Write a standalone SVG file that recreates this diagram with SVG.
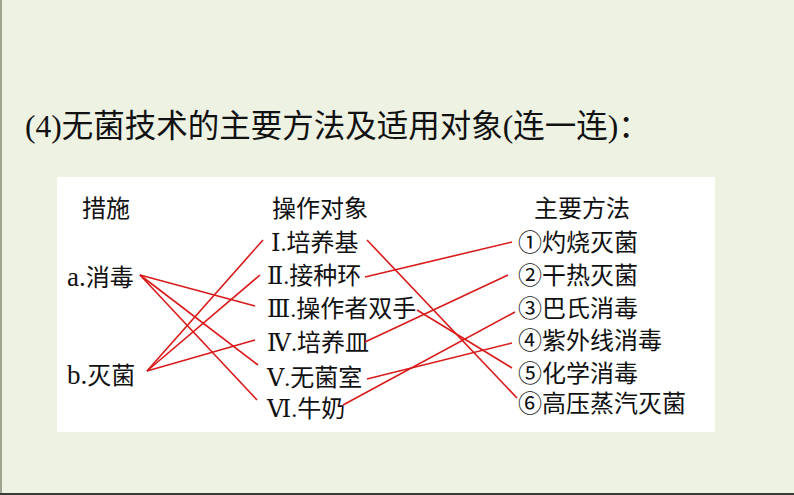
<svg xmlns="http://www.w3.org/2000/svg" width="794" height="495" viewBox="0 0 794 495">
<style>
.t{font-family:"Liberation Serif","DejaVu Serif","Noto Sans CJK SC",serif;font-size:24px;fill:#111}
.title{font-family:"Liberation Serif","Noto Sans CJK SC",serif;font-size:31.5px;fill:#111}
.lat{font-size:27px}
.c line{stroke:#D91A1A;stroke-width:1.6}
</style>
<rect x="0" y="0" width="794" height="495" fill="#EDF2E3"/>
<rect x="0" y="0" width="2" height="495" fill="#9DA58F"/>
<rect x="0" y="493" width="794" height="2" fill="#3A3A3A"/>
<rect x="57" y="177" width="658" height="255" fill="#FFFFFF"/>
<text class="title" x="25" y="137">(4)无菌技术的主要方法及适用对象(连一连)：</text>
<g id="h1"><text class="t" x="82" y="217">措施</text></g>
<g id="h2"><text class="t" x="272" y="217">操作对象</text></g>
<g id="h3"><text class="t" x="534" y="217">主要方法</text></g>
<g id="a"><text class="t" x="67" y="286"><tspan class="lat">a.</tspan>消毒</text></g>
<g id="b"><text class="t" x="67" y="384"><tspan class="lat">b.</tspan>灭菌</text></g>
<g id="o1"><text class="t" x="271" y="251">Ⅰ.培养基</text></g>
<g id="o2"><text class="t" x="267" y="284">Ⅱ.接种环</text></g>
<g id="o3"><text class="t" x="267" y="317">Ⅲ.操作者双手</text></g>
<g id="o4"><text class="t" x="267" y="351">Ⅳ.培养皿</text></g>
<g id="o5"><text class="t" x="267" y="386">Ⅴ.无菌室</text></g>
<g id="o6"><text class="t" x="267" y="417">Ⅵ.牛奶</text></g>
<g id="m1"><text class="t" x="518" y="251">①灼烧灭菌</text></g>
<g id="m2"><text class="t" x="518" y="284">②干热灭菌</text></g>
<g id="m3"><text class="t" x="518" y="317">③巴氏消毒</text></g>
<g id="m4"><text class="t" x="518" y="349">④紫外线消毒</text></g>
<g id="m5"><text class="t" x="518" y="382">⑤化学消毒</text></g>
<g id="m6"><text class="t" x="518" y="412">⑥高压蒸汽灭菌</text></g>
<g class="c" id="connectors">
<line x1="140" y1="275" x2="255" y2="306"/>
<line x1="140" y1="275" x2="258" y2="365"/>
<line x1="140" y1="275" x2="257" y2="400"/>
<line x1="147" y1="371" x2="263" y2="240"/>
<line x1="147" y1="371" x2="260" y2="275"/>
<line x1="147" y1="371" x2="255" y2="340"/>
<line x1="367" y1="240" x2="517" y2="398"/>
<line x1="365" y1="277" x2="512" y2="242"/>
<line x1="417" y1="310" x2="512" y2="368"/>
<line x1="365" y1="342" x2="508" y2="275"/>
<line x1="367" y1="379" x2="512" y2="343"/>
<line x1="343" y1="405" x2="515" y2="312"/>
</g>
</svg>
